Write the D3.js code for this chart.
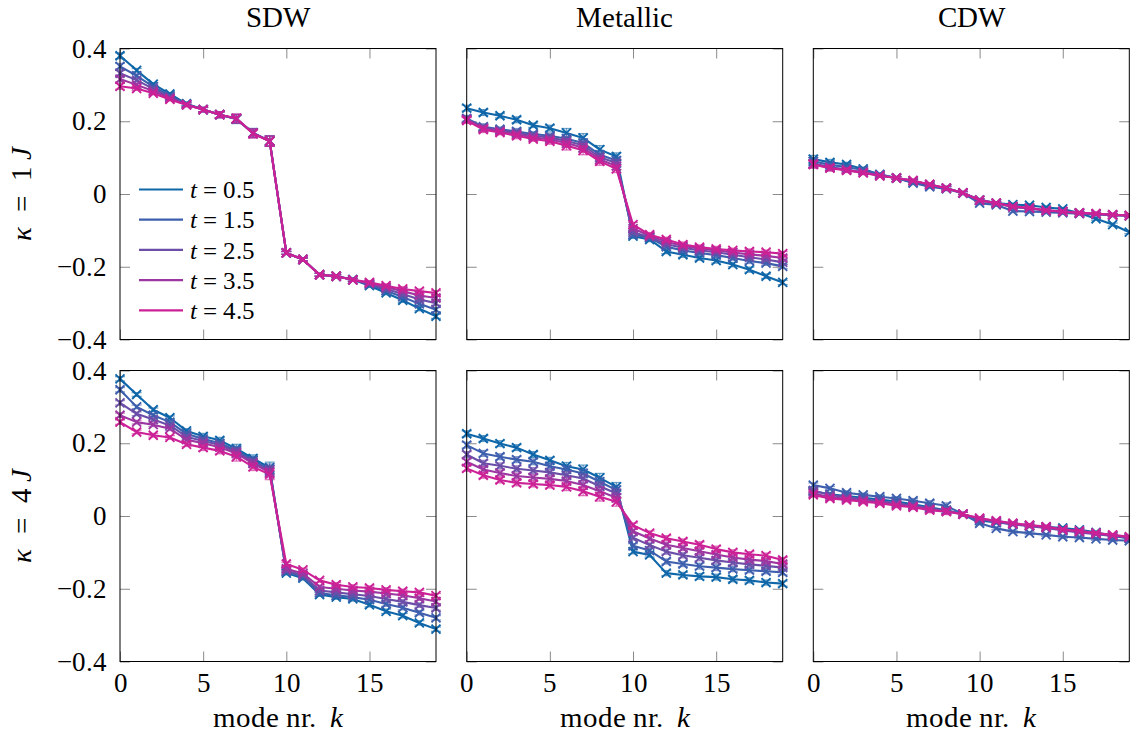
<!DOCTYPE html>
<html>
<head>
<meta charset="utf-8">
<script src="https://cdn.jsdelivr.net/npm/d3@7"></script>
<style>
  @font-face {
    font-family: "ChartSerif";
    font-style: normal;
    src: local("Liberation Serif"), local("LiberationSerif"), local("Liberation Serif Regular"),
         local("DejaVu Serif"), local("DejaVuSerif"), local("Noto Serif"), local("NotoSerif-Regular");
  }
  @font-face {
    font-family: "ChartSerif";
    font-style: italic;
    src: local("Liberation Serif Italic"), local("LiberationSerif-Italic"),
         local("DejaVu Serif Italic"), local("DejaVuSerif-Italic"), local("Noto Serif Italic"), local("NotoSerif-Italic");
  }
  body { margin: 0; background: #fff; }
  svg text { font-family: "ChartSerif", "Liberation Serif", "DejaVu Serif", serif; }
</style>
</head>
<body>
<svg width="1130" height="742"></svg>
<script>
// mode index k
const modes = [0, 1, 2, 3, 4, 5, 6, 7, 8, 9, 10, 11, 12, 13, 14, 15, 16, 17, 18, 19];
const temps = ["0.5", "1.5", "2.5", "3.5", "4.5"];
const colTitles = ["SDW", "Metallic", "CDW"];
const rowKappa = ["1", "4"];
const xTicks = [0, 5, 10, 15];
const yTicks = [-0.4, -0.2, 0, 0.2, 0.4];
const colors = ["#0f67a9", "#3d5fae", "#6b4ea8", "#9c36a1", "#cc2196"];

// one row per t (0.5 ... 4.5)
const sdwK1 = [
  [0.380, 0.340, 0.302, 0.275, 0.248, 0.232, 0.218, 0.206, 0.168, 0.145, -0.162, -0.180, -0.222, -0.226, -0.235, -0.252, -0.272, -0.292, -0.315, -0.336],
  [0.351, 0.325, 0.295, 0.270, 0.247, 0.232, 0.218, 0.206, 0.168, 0.146, -0.162, -0.180, -0.222, -0.226, -0.236, -0.249, -0.266, -0.283, -0.302, -0.318],
  [0.332, 0.313, 0.289, 0.266, 0.246, 0.232, 0.218, 0.207, 0.167, 0.146, -0.162, -0.180, -0.222, -0.226, -0.236, -0.247, -0.261, -0.275, -0.290, -0.300],
  [0.316, 0.300, 0.283, 0.263, 0.245, 0.232, 0.218, 0.207, 0.167, 0.145, -0.162, -0.180, -0.222, -0.226, -0.236, -0.245, -0.256, -0.267, -0.279, -0.286],
  [0.296, 0.290, 0.277, 0.260, 0.245, 0.232, 0.218, 0.208, 0.166, 0.145, -0.162, -0.180, -0.222, -0.226, -0.236, -0.243, -0.252, -0.261, -0.267, -0.272]
];
const metK1 = [
  [0.236, 0.224, 0.215, 0.204, 0.189, 0.181, 0.168, 0.154, 0.122, 0.103, -0.116, -0.125, -0.158, -0.167, -0.176, -0.183, -0.194, -0.208, -0.226, -0.243],
  [0.208, 0.185, 0.178, 0.172, 0.165, 0.160, 0.152, 0.140, 0.108, 0.092, -0.112, -0.120, -0.145, -0.155, -0.162, -0.168, -0.176, -0.184, -0.190, -0.199],
  [0.206, 0.182, 0.175, 0.168, 0.161, 0.155, 0.146, 0.134, 0.101, 0.085, -0.105, -0.118, -0.138, -0.148, -0.155, -0.160, -0.167, -0.174, -0.180, -0.188],
  [0.204, 0.180, 0.172, 0.164, 0.156, 0.150, 0.140, 0.127, 0.095, 0.077, -0.095, -0.115, -0.131, -0.143, -0.150, -0.155, -0.161, -0.166, -0.170, -0.176],
  [0.202, 0.177, 0.169, 0.160, 0.151, 0.145, 0.133, 0.120, 0.090, 0.069, -0.084, -0.112, -0.125, -0.139, -0.146, -0.151, -0.155, -0.158, -0.160, -0.164]
];
const cdwK1 = [
  [0.096, 0.087, 0.081, 0.069, 0.053, 0.044, 0.032, 0.023, 0.016, 0.003, -0.016, -0.025, -0.029, -0.031, -0.037, -0.041, -0.052, -0.068, -0.084, -0.105],
  [0.090, 0.080, 0.074, 0.066, 0.054, 0.044, 0.030, 0.020, 0.014, 0.002, -0.025, -0.030, -0.047, -0.048, -0.050, -0.052, -0.054, -0.056, -0.058, -0.060],
  [0.084, 0.074, 0.067, 0.060, 0.051, 0.044, 0.036, 0.026, 0.016, 0.003, -0.018, -0.026, -0.036, -0.040, -0.046, -0.049, -0.053, -0.055, -0.058, -0.060],
  [0.082, 0.072, 0.066, 0.059, 0.050, 0.044, 0.036, 0.026, 0.016, 0.003, -0.017, -0.025, -0.035, -0.039, -0.045, -0.048, -0.052, -0.054, -0.057, -0.059],
  [0.081, 0.071, 0.065, 0.058, 0.050, 0.044, 0.037, 0.026, 0.016, 0.003, -0.017, -0.025, -0.034, -0.038, -0.045, -0.048, -0.052, -0.054, -0.057, -0.059]
];
const sdwK4 = [
  [0.377, 0.334, 0.292, 0.270, 0.234, 0.219, 0.208, 0.185, 0.158, 0.133, -0.157, -0.171, -0.216, -0.223, -0.228, -0.244, -0.262, -0.274, -0.294, -0.311],
  [0.347, 0.300, 0.277, 0.258, 0.226, 0.212, 0.200, 0.180, 0.153, 0.128, -0.153, -0.168, -0.212, -0.218, -0.223, -0.230, -0.242, -0.252, -0.266, -0.280],
  [0.311, 0.281, 0.265, 0.249, 0.218, 0.206, 0.195, 0.176, 0.148, 0.124, -0.150, -0.163, -0.205, -0.210, -0.215, -0.220, -0.228, -0.236, -0.245, -0.253],
  [0.277, 0.258, 0.251, 0.240, 0.210, 0.200, 0.189, 0.172, 0.144, 0.120, -0.145, -0.158, -0.195, -0.200, -0.205, -0.208, -0.213, -0.218, -0.226, -0.235],
  [0.258, 0.231, 0.222, 0.216, 0.197, 0.188, 0.179, 0.163, 0.135, 0.115, -0.132, -0.148, -0.177, -0.189, -0.195, -0.198, -0.203, -0.207, -0.210, -0.219]
];
const metK4 = [
  [0.226, 0.213, 0.199, 0.188, 0.169, 0.153, 0.137, 0.128, 0.105, 0.080, -0.098, -0.107, -0.157, -0.162, -0.166, -0.168, -0.174, -0.177, -0.183, -0.186],
  [0.195, 0.172, 0.163, 0.155, 0.149, 0.137, 0.128, 0.117, 0.094, 0.071, -0.082, -0.095, -0.125, -0.132, -0.138, -0.142, -0.146, -0.149, -0.152, -0.155],
  [0.169, 0.145, 0.138, 0.130, 0.125, 0.120, 0.112, 0.103, 0.082, 0.062, -0.060, -0.080, -0.098, -0.108, -0.115, -0.122, -0.128, -0.133, -0.137, -0.142],
  [0.149, 0.128, 0.118, 0.110, 0.106, 0.102, 0.096, 0.085, 0.068, 0.050, -0.042, -0.062, -0.079, -0.088, -0.097, -0.106, -0.114, -0.120, -0.124, -0.132],
  [0.131, 0.112, 0.099, 0.091, 0.088, 0.085, 0.080, 0.068, 0.053, 0.039, -0.025, -0.047, -0.061, -0.070, -0.079, -0.091, -0.100, -0.105, -0.109, -0.121]
];
const cdwK4 = [
  [0.068, 0.060, 0.055, 0.050, 0.045, 0.040, 0.032, 0.024, 0.016, 0.005, -0.012, -0.018, -0.022, -0.026, -0.030, -0.033, -0.038, -0.045, -0.055, -0.062],
  [0.085, 0.076, 0.064, 0.058, 0.053, 0.048, 0.042, 0.035, 0.028, 0.005, -0.020, -0.034, -0.043, -0.047, -0.052, -0.057, -0.059, -0.063, -0.066, -0.068],
  [0.070, 0.058, 0.052, 0.046, 0.041, 0.035, 0.029, 0.021, 0.015, 0.005, -0.009, -0.016, -0.023, -0.028, -0.033, -0.040, -0.045, -0.050, -0.055, -0.060],
  [0.062, 0.052, 0.047, 0.042, 0.037, 0.031, 0.026, 0.018, 0.013, 0.005, -0.007, -0.014, -0.021, -0.026, -0.031, -0.038, -0.043, -0.048, -0.053, -0.058],
  [0.058, 0.048, 0.044, 0.039, 0.035, 0.028, 0.024, 0.016, 0.012, 0.005, -0.006, -0.013, -0.020, -0.025, -0.029, -0.037, -0.041, -0.047, -0.052, -0.057]
];
// error bar half-widths per mode
const sdwK1Err = [0.008, 0.005, 0.004, 0.004, 0.005, 0.006, 0.008, 0.012, 0.012, 0.014, 0.004, 0.004, 0.004, 0.004, 0.004, 0.005, 0.005, 0.006, 0.006, 0.006];
const metK1Err = [0.008, 0.008, 0.006, 0.008, 0.006, 0.008, 0.012, 0.012, 0.011, 0.010, 0.006, 0.006, 0.006, 0.007, 0.006, 0.007, 0.006, 0.007, 0.006, 0.006];
const cdwK1Err = [0.010, 0.008, 0.006, 0.005, 0.004, 0.004, 0.004, 0.004, 0.005, 0.004, 0.004, 0.004, 0.004, 0.004, 0.004, 0.004, 0.004, 0.004, 0.004, 0.004];
const sdwK4Err = [0.006, 0.005, 0.005, 0.005, 0.006, 0.008, 0.008, 0.012, 0.010, 0.015, 0.005, 0.005, 0.005, 0.006, 0.006, 0.006, 0.006, 0.006, 0.006, 0.006];
const metK4Err = [0.008, 0.008, 0.008, 0.008, 0.008, 0.008, 0.010, 0.012, 0.012, 0.012, 0.006, 0.006, 0.007, 0.007, 0.008, 0.008, 0.007, 0.007, 0.007, 0.007];
const cdwK4Err = [0.006, 0.005, 0.005, 0.005, 0.005, 0.005, 0.006, 0.007, 0.008, 0.005, 0.004, 0.004, 0.004, 0.004, 0.004, 0.004, 0.004, 0.004, 0.004, 0.004];

const panels = [
  [sdwK1, metK1, cdwK1],
  [sdwK4, metK4, cdwK4]
];
const panelErr = [
  [sdwK1Err, metK1Err, cdwK1Err],
  [sdwK4Err, metK4Err, cdwK4Err]
];

const svg = d3.select("svg");
const colLeft = [120, 466.7, 813.3];
const rowTop = [48.5, 370.5];
const pw = 316, ph = 291;
const tickSize = 27;
const labelSize = 29;

const x = d3.scaleLinear().domain([0, 19]).range([0, pw]);
const y = d3.scaleLinear().domain([-0.4, 0.4]).range([ph, 0]);
const yFmt = d => d === 0 ? "0" : d3.format(".1f")(d);

const line = d3.line().x((d, i) => x(modes[i])).y(d => y(d));
const cross = "M-4.5,-4.5L4.5,4.5M-4.5,4.5L4.5,-4.5";

panels.forEach((row, r) => {
  row.forEach((series, c) => {
    const g = svg.append("g").attr("transform", `translate(${colLeft[c]},${rowTop[r]})`);
    const err = panelErr[r][c];

    // axes with inward ticks on all four sides
    const left = d3.axisLeft(y).tickValues(yTicks).tickSize(-10).tickPadding(13)
      .tickFormat(c === 0 ? yFmt : "");
    const right = d3.axisRight(y).tickValues(yTicks).tickSize(-10).tickFormat("");
    const bottom = d3.axisBottom(x).tickValues(xTicks).tickSize(-10).tickPadding(11)
      .tickFormat(r === 1 ? d3.format("d") : "");
    const top = d3.axisTop(x).tickValues(xTicks).tickSize(-10).tickFormat("");

    g.append("g").call(left);
    g.append("g").attr("transform", `translate(${pw},0)`).call(right);
    g.append("g").attr("transform", `translate(0,${ph})`).call(bottom);
    g.append("g").call(top);
    g.selectAll(".domain").remove();
    g.selectAll("g").attr("font-family", null).attr("font-size", tickSize);
    g.selectAll(".tick line").attr("stroke", "#8a8a8a").attr("stroke-width", 1);
    g.selectAll(".tick text").attr("fill", "#000");

    series.forEach((vals, s) => {
      const col = colors[s];
      const sg = g.append("g");
      // error bars
      const eb = sg.selectAll("g.err").data(vals).enter().append("g")
        .attr("class", "err")
        .attr("stroke", col).attr("stroke-opacity", 0.6).attr("stroke-width", 1.3);
      eb.append("line")
        .attr("x1", (d, i) => x(modes[i])).attr("x2", (d, i) => x(modes[i]))
        .attr("y1", (d, i) => y(d - err[i])).attr("y2", (d, i) => y(d + err[i]));
      eb.append("line")
        .attr("x1", (d, i) => x(modes[i]) - 5).attr("x2", (d, i) => x(modes[i]) + 5)
        .attr("y1", (d, i) => y(d + err[i])).attr("y2", (d, i) => y(d + err[i]));
      eb.append("line")
        .attr("x1", (d, i) => x(modes[i]) - 5).attr("x2", (d, i) => x(modes[i]) + 5)
        .attr("y1", (d, i) => y(d - err[i])).attr("y2", (d, i) => y(d - err[i]));

      sg.append("path").datum(vals)
        .attr("d", line)
        .attr("fill", "none").attr("stroke", col).attr("stroke-width", 2.1)
        .attr("stroke-linejoin", "round");

      sg.selectAll("path.mk").data(vals).enter().append("path")
        .attr("class", "mk")
        .attr("transform", (d, i) => `translate(${x(modes[i])},${y(d)})`)
        .attr("d", cross)
        .attr("stroke", col).attr("stroke-width", 1.9).attr("fill", "none");
    });

    g.append("rect")
      .attr("width", pw).attr("height", ph)
      .attr("fill", "none").attr("stroke", "#000").attr("stroke-width", 1);

    if (r === 0) {
      svg.append("text")
        .attr("x", colLeft[c] + pw / 2).attr("y", 27)
        .attr("text-anchor", "middle")
        .attr("font-size", labelSize)
        .text(colTitles[c]);
    }
    if (r === 1) {
      const t = svg.append("text")
        .attr("x", colLeft[c] + pw / 2).attr("y", 727)
        .attr("text-anchor", "middle")
        .attr("font-size", labelSize);
      t.append("tspan").text("mode nr.\u00a0\u00a0");
      t.append("tspan").attr("font-style", "italic").text("k");
    }
  });

  // row label
  const cy = rowTop[r] + ph / 2;
  const lt = svg.append("text")
    .attr("transform", `translate(31,${cy}) rotate(-90)`)
    .attr("text-anchor", "middle")
    .attr("font-size", labelSize);
  lt.append("tspan").attr("font-style", "italic").text("κ");
  lt.append("tspan").text("\u2002=\u2002" + rowKappa[r] + "\u2009");
  lt.append("tspan").attr("font-style", "italic").text("J");
});

// legend in the first panel
const legend = svg.append("g").attr("transform", `translate(${colLeft[0]},${rowTop[0]})`);
temps.forEach((t, i) => {
  const ly = 141 + i * 30.2;
  legend.append("line")
    .attr("x1", 19).attr("x2", 63).attr("y1", ly).attr("y2", ly)
    .attr("stroke", colors[i]).attr("stroke-width", 2.2);
  const tx = legend.append("text")
    .attr("x", 70).attr("y", ly).attr("dy", "0.35em")
    .attr("font-size", 25);
  tx.append("tspan").attr("font-style", "italic").text("t");
  tx.append("tspan").text(" = " + t);
});
</script>
</body>
</html>
